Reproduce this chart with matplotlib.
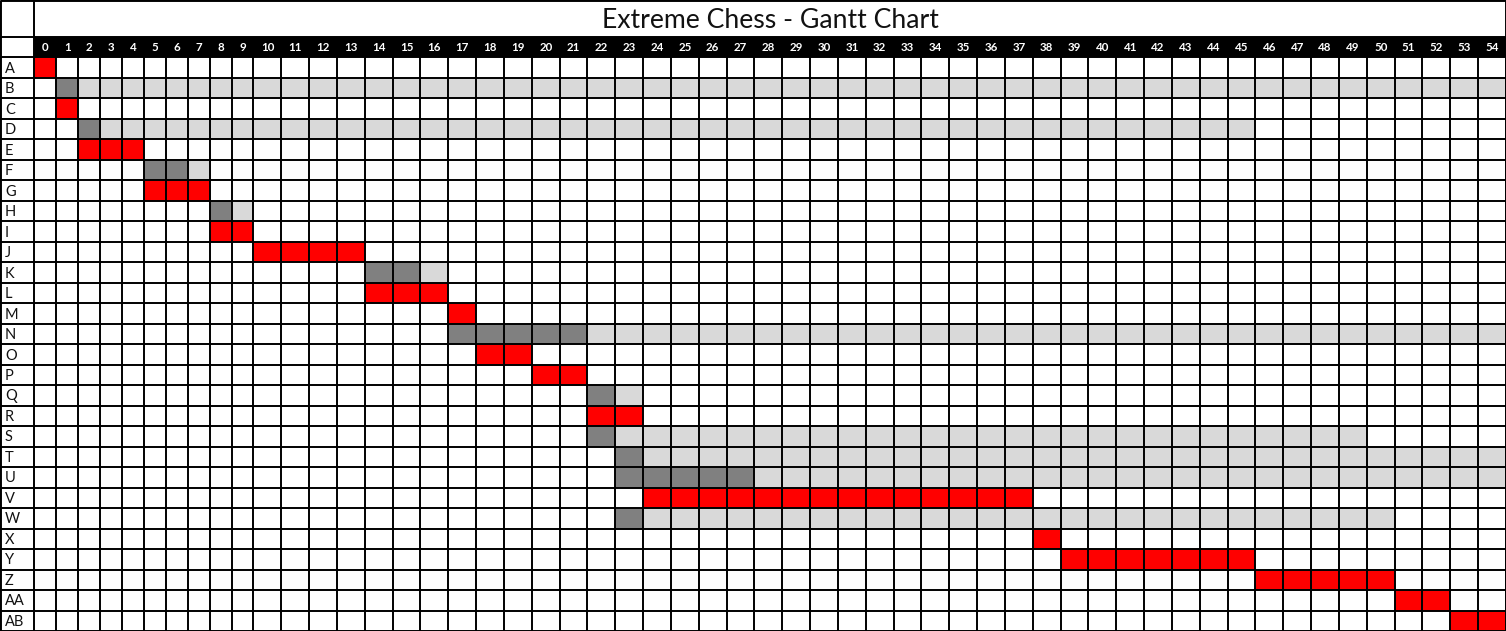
import numpy as np
import matplotlib
matplotlib.use("Agg")
import matplotlib.pyplot as plt

# --- Données du diagramme ---
title = "Extreme Chess - Gantt Chart"
weeks = list(range(55))
tasks = ["A", "B", "C", "D", "E", "F", "G", "H", "I", "J", "K", "L", "M", "N",
         "O", "P", "Q", "R", "S", "T", "U", "V", "W", "X", "Y", "Z", "AA", "AB"]
# début et durée de chaque tâche (en semaines)
starts = [0, 1, 1, 2, 2, 5, 5, 8, 8, 10, 14, 14, 17, 17,
          18, 20, 22, 22, 22, 23, 23, 24, 23, 38, 39, 46, 51, 53]
durations = [1, 1, 1, 1, 3, 2, 3, 1, 2, 4, 2, 3, 1, 5,
             2, 2, 1, 2, 1, 1, 5, 14, 1, 1, 7, 5, 2, 2]
# tâche critique (rouge) ou non (gris foncé)
critical = [1, 0, 1, 0, 1, 0, 1, 0, 1, 1, 0, 1, 1, 0,
            1, 1, 0, 1, 0, 0, 0, 1, 0, 1, 1, 1, 1, 1]
# marge totale (gris clair) après la tâche
slack = [0, 53, 0, 43, 0, 1, 0, 1, 0, 0, 1, 0, 0, 33,
         0, 0, 1, 0, 27, 31, 27, 0, 27, 0, 0, 0, 0, 0]

# --- Mise en page (pixels) ---
W, H = 1506, 631
label_w = 34.5
narrow_w = 21.9
wide_w = (W - label_w - 10 * narrow_w) / 45
row_h = (H - 37 - 20.3) / 28
title_rows = 37 / row_h


def fwd(x):
    x = np.asarray(x, dtype=float)
    return np.where(x < 10, x * narrow_w, 10 * narrow_w + (x - 10) * wide_w)


def inv(p):
    p = np.asarray(p, dtype=float)
    return np.where(p < 10 * narrow_w, p / narrow_w, 10 + (p - 10 * narrow_w) / wide_w)


plt.rcParams['font.family'] = ['Lato', 'DejaVu Sans']

fig = plt.figure(figsize=(W / 100, H / 100), dpi=100)
ax = fig.add_axes([0, 0, 1, 1])
ax.set_xscale('function', functions=(fwd, inv))
x_left = -label_w / narrow_w
n_weeks = len(weeks)
n_tasks = len(tasks)
ax.set_xlim(x_left, n_weeks)
ax.set_ylim(n_tasks, -1 - title_rows)
ax.axis('off')

red, dark, light = "#FF0000", "#808080", "#D9D9D9"

# barres de tâches et marges
y = np.arange(n_tasks)
colors = [red if c else dark for c in critical]
ax.barh(y, durations, left=starts, height=1, color=colors, align='edge', zorder=1)
ends = np.array(starts) + np.array(durations)
ax.barh(y, slack, left=ends, height=1, color=light, align='edge', zorder=1)

# ligne d'en-tête noire avec numéros de semaine
ax.barh(-1, n_weeks, left=0, height=1, color="black", align='edge', zorder=1)
for w in weeks:
    ax.text(w + 0.5, -0.5, str(w), color="white", fontsize=8.3, fontweight='bold',
            ha='center', va='center', zorder=3)

# libellés des tâches
for i, t in enumerate(tasks):
    ax.text(x_left + 5 / narrow_w, i + 0.55, t, fontsize=10.5, ha='left', va='center',
            color="#111111", zorder=3)

# titre (centré sur la zone des semaines, en pixels)
x_title = float(inv((W - label_w) / 2))
ax.text(x_title, -1 - title_rows + 20.5 / row_h, title,
        fontsize=19.2, ha='center', va='center', zorder=3, color="#111111")

# quadrillage
lw = 1.4
ax.hlines(np.arange(-1, n_tasks + 1), x_left, n_weeks, color="black", lw=lw, zorder=2)
ax.hlines(-1 - title_rows, x_left, n_weeks, color="black", lw=lw * 1.5, zorder=2)
ax.vlines(np.arange(1, n_weeks + 1), -1, n_tasks, color="black", lw=lw, zorder=2)
ax.vlines(0, -1 - title_rows, n_tasks, color="black", lw=lw, zorder=2)
ax.vlines([x_left, n_weeks], -1 - title_rows, n_tasks, color="black", lw=lw * 1.5, zorder=2)

fig.savefig("out.png", dpi=100)
